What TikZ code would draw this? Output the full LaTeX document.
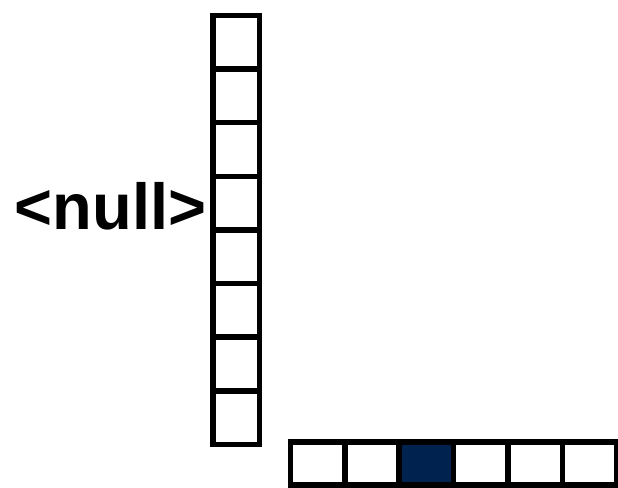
\documentclass[tikz,border=0pt]{standalone}
\usepackage{fontspec}
\setmainfont{Liberation Sans}
\definecolor{navy}{RGB}{0,34,78}
\begin{document}
\begin{tikzpicture}[x=1pt,y=1pt,
  cell/.style={draw=black,line width=5.5pt,inner sep=0pt,outer sep=0pt}]
\useasboundingbox (0,0) rectangle (618,487);
% vertical column of 8 cells
\foreach \i in {0,...,7}{
  \node[cell,minimum width=46.5pt,minimum height=53.625pt,anchor=north west]
    (c\i) at (213,{487-15.5-\i*53.625}) {};
}
% horizontal row of 6 cells
\foreach \i in {0,...,5}{
  \ifnum\i=2
    \node[cell,fill=navy,minimum width=54.45pt,minimum height=43pt,anchor=north west]
      (r\i) at ({290.3+\i*54.45},{487-442}) {};
  \else
    \node[cell,minimum width=54.45pt,minimum height=43pt,anchor=north west]
      (r\i) at ({290.3+\i*54.45},{487-442}) {};
  \fi
}
\node[anchor=base,inner sep=0pt,font=\fontsize{65}{65}\selectfont\bfseries]
  (lbl) at (110.5,{487-230}) {<null>};
\end{tikzpicture}
\end{document}
